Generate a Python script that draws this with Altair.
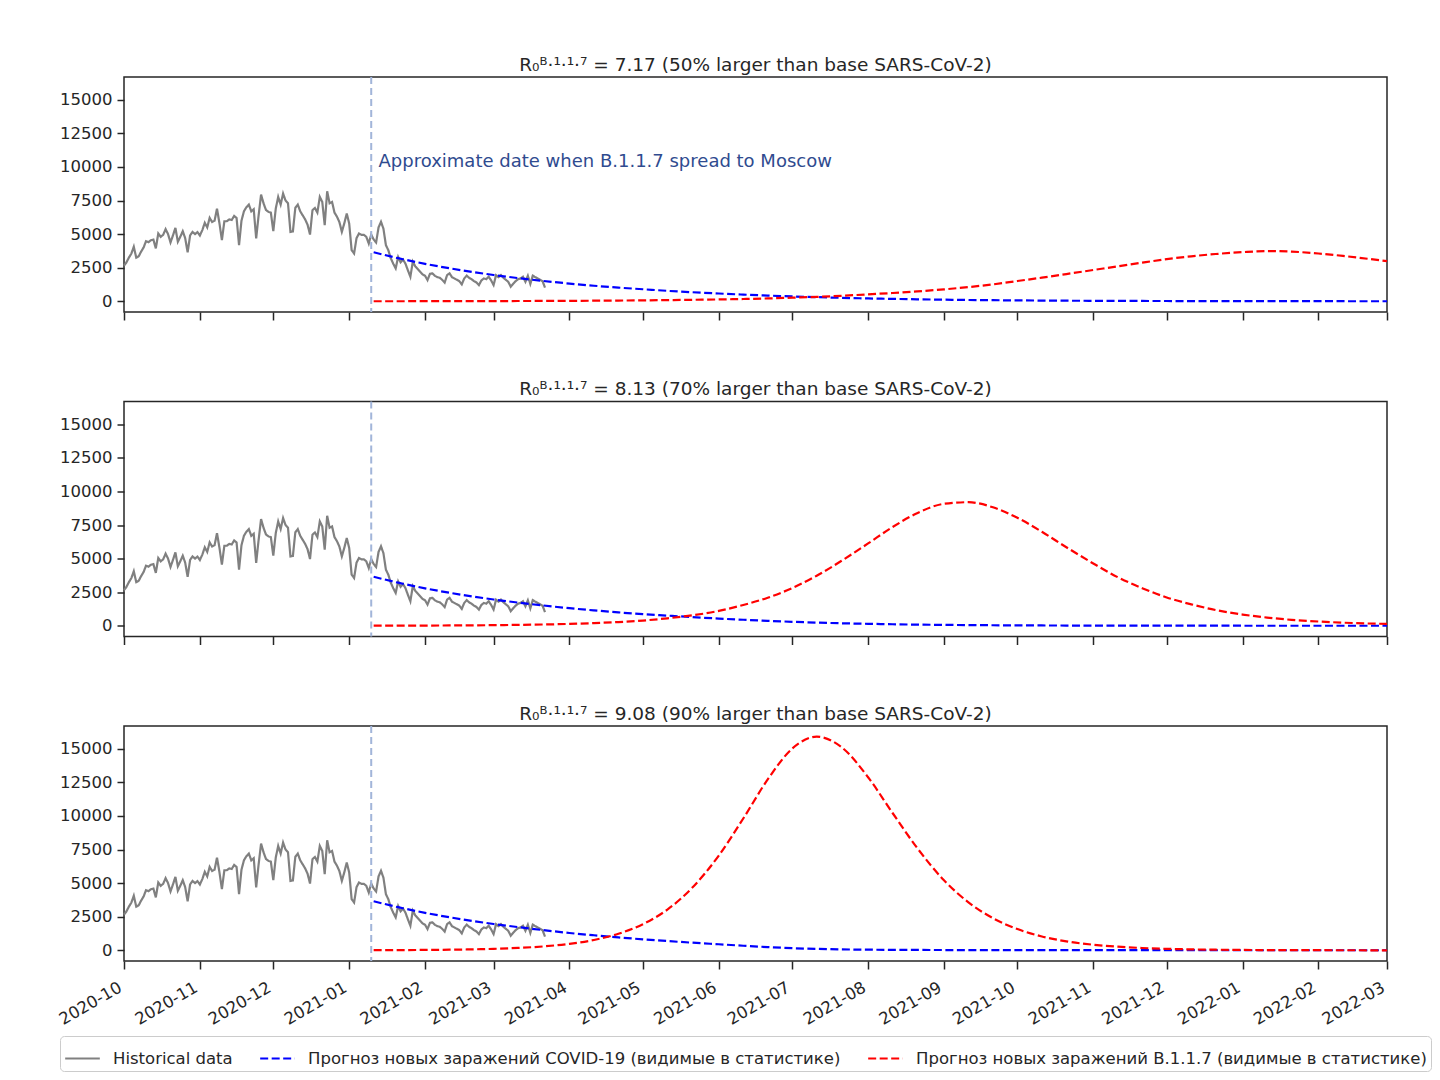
import altair as alt
import pandas as pd

# ---------------- data ----------------
hist_start = "2020-10-01"
hist_values = [
    2650, 2900, 3250, 3550, 4060, 3250, 3350,
    3700, 4000, 4480, 4400, 4550, 4600, 3935,
    5050, 4800, 4950, 5370, 5000, 4380, 4900,
    5470, 4430, 4800, 5220, 4700, 3640, 4900,
    5170, 5000, 5150, 4900, 5300, 5840, 5500,
    6210, 5900, 6000, 6900, 5800, 4550, 5960,
    5960, 6100, 6050, 6360, 6200, 4180, 6000,
    6700, 7000, 7200, 6700, 6850, 4680, 6400,
    7940, 7300, 6800, 6660, 6600, 5220, 6900,
    7770, 7200, 8020, 7500, 7300, 5170, 5200,
    6960, 7200, 6700, 6400, 6100, 5700, 4970,
    6780, 6950, 6600, 7770, 7400, 5670, 8190,
    7300, 7400, 6600, 6300, 5900, 5170, 5800,
    6530, 5800, 3810, 3560, 4700, 5050, 4950,
    4950, 4800, 4300, 4970, 4600, 4380, 5500,
    5920, 5400, 4180, 3800, 3200, 2800, 2450,
    3300, 2900, 3100, 2800, 2300, 1830, 2950,
    2600, 2400, 2200, 2000, 1900, 1580, 2050,
    2080, 1900, 1800, 1750, 1600, 1390, 1950,
    2080, 1800, 1700, 1600, 1500, 1260, 1700,
    1910, 1750, 1650, 1500, 1400, 1210, 1550,
    1700, 1650, 1830, 1550, 1210, 1950, 1800,
    1950, 1750, 1600, 1450, 1090, 1300, 1500,
    1650, 1700, 1830, 1450, 1900, 1300, 1910,
    1800, 1700, 1600, 1500, 1020,
]

forecast_dates = [
    "2021-01-11", "2021-01-21", "2021-02-01", "2021-02-11", "2021-02-21",
    "2021-03-01", "2021-03-11", "2021-03-21", "2021-04-01", "2021-04-11",
    "2021-04-21", "2021-05-01", "2021-05-11", "2021-05-21", "2021-06-01",
    "2021-06-11", "2021-06-21", "2021-07-01", "2021-07-11", "2021-07-21",
    "2021-08-01", "2021-08-11", "2021-08-21", "2021-09-01", "2021-09-11",
    "2021-09-21", "2021-10-01", "2021-10-11", "2021-10-21", "2021-11-01",
    "2021-11-11", "2021-11-21", "2021-12-01", "2021-12-11", "2021-12-21",
    "2022-01-01", "2022-01-11", "2022-01-21", "2022-02-01", "2022-02-11",
    "2022-02-21", "2022-03-01",
]

blue_p1 = [3650, 3210, 2790, 2460, 2170, 1960, 1730, 1520, 1320, 1160,
           1020, 900, 780, 680, 580, 500, 430, 365, 310, 260,
           215, 180, 150, 122, 100, 83, 68, 56, 46, 38,
           31, 26, 22, 18, 15, 13, 11, 9, 8, 7,
           6, 5]
red_p1 = [5, 6, 9, 11, 14, 18, 22, 28, 36, 45,
          57, 72, 90, 112, 140, 172, 215, 272, 330, 405,
          520, 620, 740, 890, 1060, 1260, 1510, 1760, 2030, 2330,
          2600, 2880, 3140, 3350, 3520, 3660, 3740, 3700, 3560, 3380,
          3170, 2990]

blue_p2 = [3650, 3210, 2790, 2460, 2170, 1960, 1730, 1520, 1310, 1150,
           1000, 870, 760, 650, 540, 450, 370, 300, 240, 190,
           150, 115, 90, 70, 55, 42, 33, 26, 21, 17,
           14, 12, 10, 9, 8, 7, 6, 6, 5, 5,
           5, 5]
red_p2 = [9, 12, 18, 26, 37, 49, 69, 97, 142, 204,
          282, 392, 559, 775, 1110, 1550, 2090, 2810, 3730, 4820,
          6130, 7350, 8380, 9080, 9200, 8820, 8040, 7000, 5850, 4640,
          3620, 2800, 2110, 1600, 1175, 836, 615, 445, 320, 235,
          175, 140]

blue_p3 = [3650, 3210, 2790, 2460, 2170, 1960, 1730, 1510, 1290, 1120,
           960, 820, 690, 570, 450, 340, 240, 160, 105, 70,
           48, 35, 27, 22, 18, 15, 13, 11, 10, 9,
           8, 8, 7, 7, 6, 6, 6, 5, 5, 5,
           5, 5]
red_p3 = [10, 17, 29, 46, 74, 110, 178, 285, 483, 771,
          1234, 1943, 3030, 4630, 7050, 9810, 12720, 15010, 15900, 15140,
          12880, 10220, 7630, 5215, 3570, 2395, 1580, 1030, 668, 415,
          268, 172, 110, 71, 45, 28, 18, 12, 8, 5,
          3, 2]

panel_titles = [
    "R₀ᴮ·¹·¹·⁷ = 7.17 (50% larger than base SARS-CoV-2)",
    "R₀ᴮ·¹·¹·⁷ = 8.13 (70% larger than base SARS-CoV-2)",
    "R₀ᴮ·¹·¹·⁷ = 9.08 (90% larger than base SARS-CoV-2)",
]
series_names = [
    "Historical data",
    "Прогноз новых заражений COVID-19 (видимые в статистике)",
    "Прогноз новых заражений B.1.1.7 (видимые в статистике)",
]
series_colors = ["#808080", "#0000ff", "#ff0000"]
y_ticks = [0, 2500, 5000, 7500, 10000, 12500, 15000]
spread_date = alt.DateTime(year=2021, month=1, date=10)
annotation_date = alt.DateTime(year=2021, month=1, date=13)
annotation_value = 10400
annotation_text = "Approximate date when B.1.1.7 spread to Moscow"

# ---------------- tables ----------------
hist_df = pd.DataFrame({
    "date": pd.date_range(hist_start, periods=len(hist_values), freq="D").strftime("%Y-%m-%d"),
    "value": hist_values,
    "series": series_names[0],
})
one_row = pd.DataFrame({"k": [0]})

panels_fc = [(blue_p1, red_p1), (blue_p2, red_p2), (blue_p3, red_p3)]

FONT = "DejaVu Sans"
TXT = "#262626"

x_domain = [alt.DateTime(year=2020, month=10, date=1), alt.DateTime(year=2022, month=3, date=1)]
y_domain = [-795, 16695]

legend = alt.Legend(
    title=None, orient="none", legendX=-64, legendY=959, direction="horizontal",
    symbolType="stroke", symbolSize=1200, symbolStrokeWidth=2.2,
    labelFontSize=16.5, labelFont=FONT, labelColor=TXT, labelLimit=0,
    columnPadding=22, labelOffset=12, padding=4,
    strokeColor="#cccccc", fillColor="white", cornerRadius=4,
)

color_enc = alt.Color("series:N", scale=alt.Scale(domain=series_names, range=series_colors), legend=legend)
dash_enc = alt.StrokeDash("series:N", scale=alt.Scale(domain=series_names, range=[[1, 0], [8, 3.5], [8, 3.5]]), legend=legend)


def make_panel(i, bottom):
    blue, red = panels_fc[i]
    fc_df = pd.concat([
        pd.DataFrame({"date": forecast_dates, "value": blue, "series": series_names[1]}),
        pd.DataFrame({"date": forecast_dates, "value": red, "series": series_names[2]}),
    ])
    x_axis = alt.Axis(
        format="%Y-%m", tickCount={"interval": "month", "step": 1}, labels=bottom,
        labelAngle=-30, labelAlign="right", labelBaseline="top", labelFontSize=16.5,
        labelFont=FONT, labelColor=TXT, tickSize=8, tickWidth=1.5, tickColor=TXT,
        grid=False, domain=False, title=None, labelPadding=10, labelOffset=-8,
        labelOverlap=False,
    )
    y_axis = alt.Axis(
        values=y_ticks, format="d", labelFontSize=16.5, labelFont=FONT, labelColor=TXT,
        tickSize=7, tickWidth=1.5, tickColor=TXT, grid=False, domain=False, title=None,
        labelPadding=5, labelOverlap=False,
    )
    x_scale = alt.Scale(domain=x_domain)
    y_scale = alt.Scale(domain=y_domain, nice=False, zero=False)
    xenc = alt.X("date:T", scale=x_scale, axis=x_axis)
    yenc = alt.Y("value:Q", scale=y_scale, axis=y_axis)

    hist = alt.Chart(hist_df).mark_line(strokeWidth=2.2).encode(
        x=xenc, y=yenc, color=color_enc, strokeDash=dash_enc)
    fc = alt.Chart(fc_df).mark_line(strokeWidth=2.2, interpolate="monotone").encode(
        x=xenc, y=yenc, color=color_enc, strokeDash=dash_enc)
    vline = alt.Chart(one_row).mark_rule(color="#a2b5d9", strokeWidth=2, strokeDash=[7, 4]).encode(
        x=alt.XDatum(spread_date, type="temporal", scale=x_scale, axis=x_axis))
    layers = [hist, fc, vline]
    if i == 0:
        ann = alt.Chart(one_row).mark_text(
            align="left", baseline="middle", fontSize=18, font=FONT, color="#2f4b8f"
        ).encode(
            x=alt.XDatum(annotation_date, type="temporal", scale=x_scale, axis=x_axis),
            y=alt.YDatum(annotation_value, type="quantitative", scale=y_scale, axis=y_axis),
            text=alt.value(annotation_text),
        )
        layers.append(ann)
    return alt.layer(*layers).properties(
        width=1263, height=235,
        title=alt.TitleParams(panel_titles[i], fontSize=18.5, font=FONT, fontWeight="normal",
                              color=TXT, offset=2),
    )


chart = alt.vconcat(
    make_panel(0, False), make_panel(1, False), make_panel(2, True), spacing=56.5
).properties(
    padding={"left": 47, "top": 46, "right": 0, "bottom": 0}
).configure(font=FONT).configure_view(stroke=TXT, strokeWidth=1.5)

chart.save("out.html", embed_options={"renderer": "svg", "actions": False})
